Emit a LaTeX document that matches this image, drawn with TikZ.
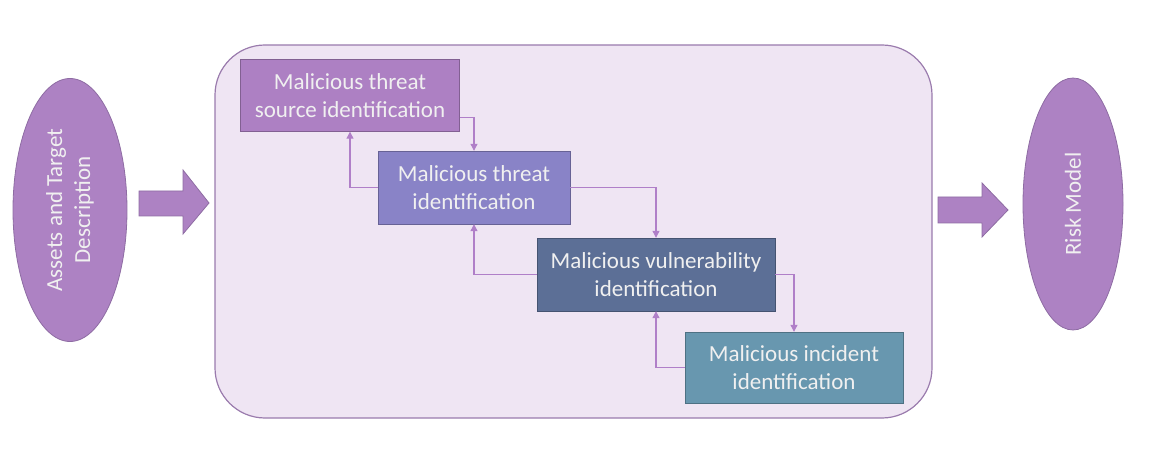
\documentclass[tikz,border=0pt]{standalone}
\usepackage{fontspec}
\setmainfont{Carlito}
\usetikzlibrary{arrows.meta}
\usetikzlibrary{shapes.geometric}
\definecolor{lilac}{HTML}{AD82C3}
\definecolor{lilacline}{HTML}{8E6CA3}
\definecolor{panelfill}{HTML}{EFE5F3}
\definecolor{panelline}{HTML}{9A7BAD}
\definecolor{linkcol}{HTML}{B07FC8}
\definecolor{sourcecol}{HTML}{AD80C3}
\definecolor{threatcol}{HTML}{8983C7}
\definecolor{vulncol}{HTML}{5C6F96}
\definecolor{incidcol}{HTML}{6897AF}
\newcommand{\labelfont}{\fontsize{23}{28}\selectfont}
\tikzset{stage/.style={draw=#1!75!black, fill=#1, text=white!94!black,
           minimum height=72pt, inner sep=0pt, align=center, font=\labelfont},
         link/.style={draw=linkcol, line width=1.1pt,
           -{Triangle[length=7pt,width=7pt]}},
         blob/.style={ellipse, draw=lilacline, fill=lilac, line width=0.8pt,
           text=white!94!black, rotate=90, inner sep=0pt, align=center,
           font=\labelfont},
         fatarrow/.style={draw=lilacline, fill=lilac, line width=0.8pt}}

\begin{document}
\begin{tikzpicture}[x=1pt,y=-1pt]
\useasboundingbox (0,0) rectangle (1160,449);
% frame round the steps
\node[draw=panelline, fill=panelfill, line width=1.2pt, rounded corners=50pt,
      minimum width=717pt, minimum height=373pt] (frame) at (573.5,231.5) {};
% input and output
\node[blob, minimum width=263pt, minimum height=114pt] (assets) at (70,210)
     {Assets and Target\\Description};
\node[blob, minimum width=252pt, minimum height=100pt] (risk) at (1073,204)
     {Risk Model};
\draw[fatarrow] (139,191)--(183,191)--(183,170)--(209,203)--(183,234)
     --(183,216)--(139,216)--cycle;
\draw[fatarrow] (938,197)--(982,197)--(982,183)--(1008,210)--(982,237)
     --(982,223)--(938,223)--cycle;
% steps
\node[stage=sourcecol, minimum width=219pt] (src) at (350,95.5)
     {Malicious threat\\source identification};
\node[stage=threatcol, minimum width=192pt, minimum height=73pt] (thr) at (474,187.5)
     {Malicious threat\\identification};
\node[stage=vulncol, minimum width=238pt, minimum height=73pt] (vul) at (656,274.5)
     {Malicious vulnerability\\identification};
\node[stage=incidcol, minimum width=218pt, minimum height=71pt] (inc) at (794,367.5)
     {Malicious incident\\identification};
% links down and back
\draw[link] ([yshift=-22pt]src.east) -| (thr.north);
\draw[link] (thr.west) -| (src.south);
\draw[link] (thr.east) -| (vul.north);
\draw[link] (vul.west) -| (thr.south);
\draw[link] (vul.east) -| (inc.north);
\draw[link] (inc.west) -| (vul.south);
\end{tikzpicture}
\end{document}
